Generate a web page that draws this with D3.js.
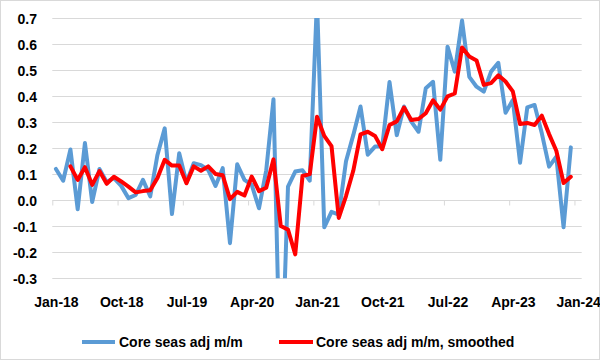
<!DOCTYPE html>
<html>
<head>
<meta charset="utf-8">
<script src="https://cdn.jsdelivr.net/npm/d3@7"></script>
<style>
  html, body { margin: 0; padding: 0; background: #fff; }
  svg { display: block; }
  text { font-family: "Liberation Sans", Arial, sans-serif; font-weight: bold; fill: #000; }
</style>
</head>
<body>
<svg id="chart" width="600" height="360"></svg>
<script>
// ---- Data ----
const startMonth = new Date(2018, 0, 1);
const months = d3.timeMonth.range(startMonth, new Date(2024, 1, 1)); // Jan-18 .. Jan-24 axis categories

const coreSeasAdj = [
  0.12, 0.075, 0.195, -0.035, 0.22, -0.007, 0.12, 0.07, 0.085, 0.055, 0.008, 0.02,
  0.078, 0.015, 0.174, 0.276, -0.053, 0.18, 0.068, 0.142, 0.135, 0.116, 0.055, 0.123,
  -0.165, 0.138, 0.078, 0.059, -0.031, 0.115, 0.388, -0.78, 0.052, 0.11, 0.115, 0.075,
  0.77, -0.104, -0.045, -0.055, 0.15, 0.25, 0.36, 0.175, 0.206, 0.207, 0.454, 0.25,
  0.36, 0.302, 0.263, 0.43, 0.455, 0.155, 0.59, 0.494, 0.69, 0.474, 0.436, 0.417,
  0.494, 0.528, 0.336, 0.385, 0.144, 0.357, 0.366, 0.257, 0.129, 0.167, -0.104, 0.203
];

const coreSeasAdjSmoothed = [
  null, null, 0.13, 0.078, 0.127, 0.059, 0.112, 0.063, 0.09, 0.072, 0.052, 0.03,
  0.035, 0.038, 0.085, 0.155, 0.133, 0.133, 0.065, 0.13, 0.113, 0.13, 0.101, 0.096,
  0.004, 0.032, 0.018, 0.091, 0.035, 0.048, 0.157, -0.099, -0.113, -0.208, 0.093, 0.1,
  0.321, 0.247, 0.208, -0.068, 0.016, 0.113, 0.253, 0.263, 0.247, 0.196, 0.289, 0.303,
  0.356, 0.308, 0.312, 0.334, 0.384, 0.348, 0.399, 0.41, 0.587, 0.552, 0.537, 0.443,
  0.45, 0.48, 0.456, 0.418, 0.293, 0.297, 0.289, 0.325, 0.254, 0.19, 0.066, 0.09
];

const xTickLabels = ["Jan-18", "Oct-18", "Jul-19", "Apr-20", "Jan-21", "Oct-21", "Jul-22", "Apr-23", "Jan-24"];
const yTicks = [-0.3, -0.2, -0.1, 0.0, 0.1, 0.2, 0.3, 0.4, 0.5, 0.6, 0.7];
const seriesNames = ["Core seas adj m/m", "Core seas adj m/m, smoothed"];
const seriesColors = ["#5B9BD5", "#FF0000"];

// ---- Layout ----
const svg = d3.select("#chart");
const W = 600, H = 360;
const plot = { left: 52.3, right: 581.7, top: 18, bottom: 278.3 };

svg.append("rect")
  .attr("x", 0.5).attr("y", 0.5).attr("width", W - 1).attr("height", H - 1)
  .attr("fill", "#fff").attr("stroke", "#d9d9d9").attr("stroke-width", 1);

const x = d3.scaleLinear().domain([0, months.length]).range([plot.left, plot.right]);
const y = d3.scaleLinear().domain([-0.3, 0.7]).range([plot.bottom, plot.top]);
const xc = i => x(i + 0.5);

// gridlines
svg.append("g")
  .selectAll("line").data(yTicks).join("line")
  .attr("x1", plot.left).attr("x2", plot.right)
  .attr("y1", d => Math.round(y(d)) + 0.5).attr("y2", d => Math.round(y(d)) + 0.5)
  .attr("stroke", "#d9d9d9").attr("stroke-width", 1);

// y axis labels
const yAxis = d3.axisLeft(y).tickValues(yTicks).tickSize(0).tickPadding(0)
  .tickFormat(d => d.toFixed(1));
const gy = svg.append("g").attr("transform", `translate(37,0)`).call(yAxis);
gy.select(".domain").remove();
gy.selectAll("text").attr("font-size", 14).attr("font-family", null).attr("dy", "0.36em");

// x axis at zero
const xTickIdx = xTickLabels.map((_, k) => k * 9);
const xAxis = d3.axisBottom(x).tickValues(xTickIdx).tickSize(5).tickPadding(0)
  .tickFormat((d, k) => xTickLabels[k]);
const gx = svg.append("g").attr("transform", `translate(0,${Math.round(y(0)) + 0.5})`).call(xAxis);
gx.select(".domain").remove();
gx.selectAll(".tick line").attr("stroke", "#d9d9d9");
gx.selectAll(".tick text")
  .attr("font-size", 14).attr("font-family", null)
  .attr("x", x(0.5) - x(0))
  .attr("y", 0)
  .attr("transform", `translate(0,${307 - (Math.round(y(0)) + 0.5)})`)
  .attr("dy", 0);

// clip
svg.append("clipPath").attr("id", "plotClip")
  .append("rect").attr("x", plot.left).attr("y", plot.top)
  .attr("width", plot.right - plot.left).attr("height", plot.bottom - plot.top);

const line = d3.line()
  .defined(d => d != null)
  .x((d, i) => xc(i))
  .y(d => y(d));

const g = svg.append("g").attr("clip-path", "url(#plotClip)");
g.append("path").datum(coreSeasAdj)
  .attr("d", line).attr("fill", "none")
  .attr("stroke", seriesColors[0]).attr("stroke-width", 4)
  .attr("stroke-linejoin", "round").attr("stroke-linecap", "round");
g.append("path").datum(coreSeasAdjSmoothed)
  .attr("d", line).attr("fill", "none")
  .attr("stroke", seriesColors[1]).attr("stroke-width", 4)
  .attr("stroke-linejoin", "round").attr("stroke-linecap", "round");

// legend
const legendItems = [
  { x1: 82, x2: 115, tx: 119 },
  { x1: 279, x2: 313, tx: 316 }
];
const lg = svg.append("g");
legendItems.forEach((it, k) => {
  lg.append("line").attr("x1", it.x1).attr("x2", it.x2).attr("y1", 342).attr("y2", 342)
    .attr("stroke", seriesColors[k]).attr("stroke-width", 4);
  lg.append("text").attr("x", it.tx).attr("y", 347).attr("font-size", 14).text(seriesNames[k]);
});
</script>
</body>
</html>
